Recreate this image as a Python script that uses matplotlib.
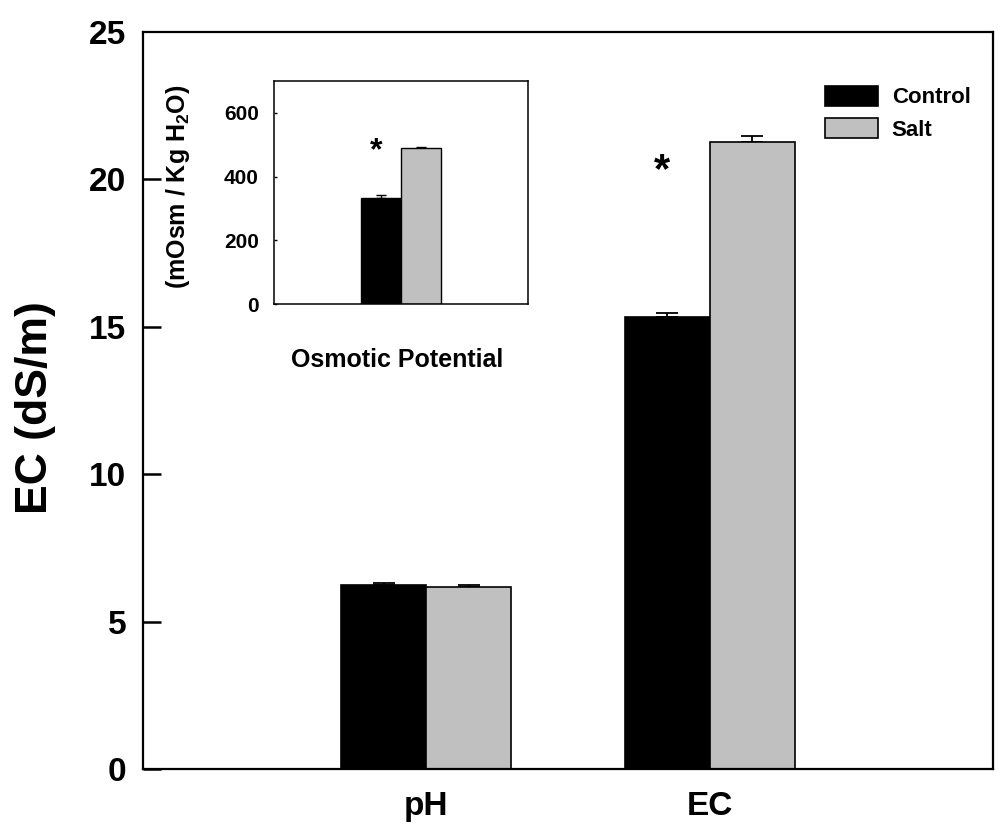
import numpy as np
import matplotlib
matplotlib.use("Agg")
import matplotlib.pyplot as plt
from matplotlib.patches import Patch

plt.rcParams['font.family'] = ['Liberation Sans', 'DejaVu Sans']
plt.rcParams['font.weight'] = 'bold'
plt.rcParams['mathtext.fontset'] = 'custom'
plt.rcParams['mathtext.rm'] = 'Liberation Sans:bold'
plt.rcParams['mathtext.it'] = 'Liberation Sans:bold'
plt.rcParams['mathtext.bf'] = 'Liberation Sans:bold'

# Main data
categories = ["pH", "EC"]
control_vals = [6.23, 15.34]
control_err = [0.08, 0.12]
salt_vals = [6.17, 21.26]
salt_err = [0.08, 0.21]
series_names = ["Control", "Salt"]
yticks_main = [0, 5, 10, 15, 20, 25]

# Inset data
inset_category = ["Osmotic Potential"]
inset_control = [334]
inset_control_err = [7]
inset_salt = [489]
inset_salt_err = [4]
yticks_inset = [0, 200, 400, 600]

black = "#000000"
grey = "#c0c0c0"

fig = plt.figure(figsize=(10, 8.32), dpi=100)
ax = fig.add_axes([0.143, 0.0757, 0.85, 0.8858])

x = np.arange(1, len(categories) + 1)
w = 0.30
ax.bar(x - w/2, control_vals, w, color=black, edgecolor=black, linewidth=1.2, zorder=2)
ax.bar(x + w/2, salt_vals, w, color=grey, edgecolor=black, linewidth=1.2, zorder=2)
ax.errorbar(x - w/2, control_vals, yerr=[np.zeros(len(x)), control_err], fmt='none',
            ecolor=black, elinewidth=1.3, capsize=8, capthick=1.3, zorder=1)
ax.errorbar(x + w/2, salt_vals, yerr=[np.zeros(len(x)), salt_err], fmt='none',
            ecolor=black, elinewidth=1.3, capsize=8, capthick=1.3, zorder=1)

ax.set_xlim(0, 3)
ax.set_ylim(0, 25)
ax.set_yticks(yticks_main)
ax.set_yticklabels([str(t) for t in yticks_main], fontsize=24, fontweight='bold')
ax.set_xticks(x)
ax.set_xticklabels(categories, fontsize=24, fontweight='bold')
ax.tick_params(axis='x', length=0, pad=16)
ax.tick_params(axis='y', direction='in', length=13, width=1.8, pad=12)
ax.yaxis.get_major_ticks()[-1].tick1line.set_visible(False)
for s in ax.spines.values():
    s.set_linewidth(1.6)
ax.set_ylabel("EC (dS/m)", fontsize=32, fontweight='bold', va='center')
ax.yaxis.set_label_coords(-0.127, 0.49)

ax.text(x[1] - w/2 - 0.02, 19.6, "*", fontsize=30, fontweight='bold', ha='center', va='bottom')

handles = [Patch(facecolor=black, edgecolor=black, linewidth=1.2),
           Patch(facecolor=grey, edgecolor=black, linewidth=1.2)]
fig.legend(handles, series_names, loc='upper left', bbox_to_anchor=(0.825, 0.897),
           frameon=False, prop={'weight': 'bold', 'size': 16},
           handlelength=2.4, handleheight=1.0, handletextpad=0.6,
           labelspacing=0.45, borderpad=0, borderaxespad=0)

# Inset
ax2 = fig.add_axes([0.274, 0.6346, 0.254, 0.268])
xi = np.arange(len(inset_category))
wi = 0.315
ax2.bar(xi - wi/2, inset_control, wi, color=black, edgecolor=black, linewidth=1.0, zorder=2)
ax2.bar(xi + wi/2, inset_salt, wi, color=grey, edgecolor=black, linewidth=1.0, zorder=2)
ax2.errorbar(xi - wi/2, inset_control, yerr=[[0], inset_control_err], fmt='none',
             ecolor=black, elinewidth=1.0, capsize=3.5, capthick=1.0, zorder=1)
ax2.errorbar(xi + wi/2, inset_salt, yerr=[[0], inset_salt_err], fmt='none',
             ecolor=black, elinewidth=1.0, capsize=3.5, capthick=1.0, zorder=1)
ax2.set_xlim(-1, 1)
ax2.set_ylim(0, 700)
ax2.set_yticks(yticks_inset)
ax2.set_yticklabels([str(t) for t in yticks_inset], fontsize=15, fontweight='bold')
ax2.set_xticks([])
ax2.tick_params(axis='y', direction='in', length=2.5, width=1.0, pad=11)
for s in ax2.spines.values():
    s.set_linewidth(1.1)
ax2.set_ylabel("(mOsm / Kg H$_2$O)", fontsize=18, fontweight='bold', va='center')
ax2.yaxis.set_label_coords(-0.378, 0.527)
ax2.set_xlabel(inset_category[0], fontsize=18, fontweight='bold', va='center')
ax2.xaxis.set_label_coords(0.486, -0.251)
ax2.text(xi[0] - wi/2 - 0.04, 433, "*", fontsize=23, fontweight='bold', ha='center', va='bottom')

fig.savefig("out.png", dpi=100)
